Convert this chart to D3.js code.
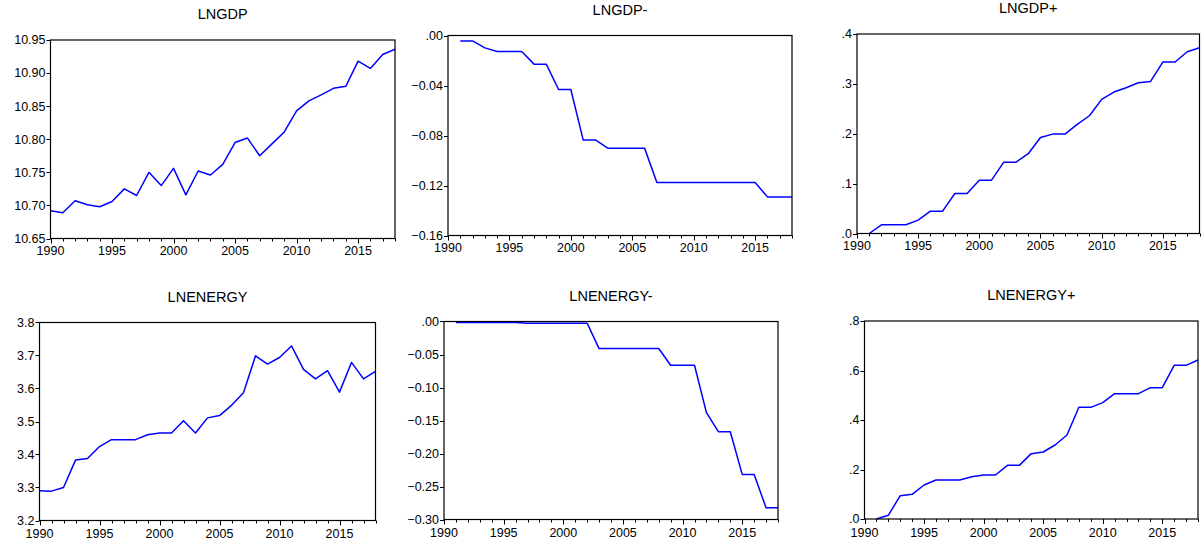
<!DOCTYPE html>
<html>
<head>
<meta charset="utf-8">
<script src="https://cdn.jsdelivr.net/npm/d3@7"></script>
<style>
  html, body { margin: 0; padding: 0; background: #fff; }
  svg { display: block; }
  text { font-family: "Liberation Sans", Arial, sans-serif; fill: #000; }
</style>
</head>
<body>
<svg id="chart" width="1201" height="546"></svg>
<script>
// ---- data ----
const years = d3.range(1990, 2019);
const titles = ["LNGDP", "LNGDP-", "LNGDP+", "LNENERGY", "LNENERGY-", "LNENERGY+"];

const lngdp = [10.692, 10.689, 10.707, 10.701, 10.698, 10.706, 10.725, 10.715, 10.750, 10.730,
  10.756, 10.716, 10.752, 10.746, 10.762, 10.795, 10.802, 10.775, 10.793, 10.811,
  10.843, 10.858, 10.867, 10.877, 10.880, 10.918, 10.907, 10.928, 10.936];
const lngdpNeg = [null, -0.0043, -0.0043, -0.0099, -0.0128, -0.0128, -0.0128, -0.0229, -0.0229, -0.0432,
  -0.0432, -0.0835, -0.0835, -0.0901, -0.0901, -0.0901, -0.0901, -0.1176, -0.1176, -0.1176,
  -0.1176, -0.1176, -0.1176, -0.1176, -0.1176, -0.1176, -0.1291, -0.1291, -0.1291];
const lngdpPos = [null, 0.000, 0.0174, 0.0174, 0.0174, 0.0268, 0.0448, 0.0448, 0.0803, 0.0803,
  0.107, 0.107, 0.1431, 0.1431, 0.160, 0.1926, 0.1993, 0.1993, 0.2187, 0.2361,
  0.2689, 0.2836, 0.2923, 0.3023, 0.305, 0.3438, 0.3438, 0.3645, 0.3726];
const lnenergy = [3.290, 3.289, 3.300, 3.383, 3.388, 3.424, 3.445, 3.445, 3.445, 3.460,
  3.465, 3.465, 3.502, 3.465, 3.511, 3.518, 3.549, 3.587, 3.699, 3.674,
  3.694, 3.729, 3.658, 3.629, 3.654, 3.589, 3.679, 3.629, 3.652];
const lnenergyNeg = [null, -0.0015, -0.0015, -0.0015, -0.0015, -0.0015, -0.0015, -0.0025, -0.0025, -0.0025,
  -0.0025, -0.0025, -0.0025, -0.041, -0.041, -0.041, -0.041, -0.041, -0.041, -0.0663,
  -0.0663, -0.0663, -0.138, -0.167, -0.167, -0.2317, -0.2317, -0.2823, -0.2823];
const lnenergyPos = [null, 0.000, 0.0148, 0.0943, 0.0997, 0.1374, 0.1576, 0.1576, 0.1576, 0.171,
  0.1778, 0.1778, 0.2168, 0.2168, 0.264, 0.2707, 0.299, 0.3394, 0.4512, 0.4512,
  0.470, 0.5064, 0.5064, 0.5064, 0.5306, 0.5306, 0.6208, 0.6208, 0.6424];

const yDomains = [[10.65, 10.95], [-0.16, 0], [0, 0.4], [3.2, 3.8], [-0.30, 0], [0, 0.8]];
const yTickSteps = [0.05, 0.04, 0.1, 0.1, 0.05, 0.2];
const yTickDecimals = [2, 2, 1, 1, 2, 1];
const xTickLabels = [1990, 1995, 2000, 2005, 2010, 2015];
const series = [lngdp, lngdpNeg, lngdpPos, lnenergy, lnenergyNeg, lnenergyPos];

// ---- layout (panel frames) ----
const frames = [
  {l: 50.5, r: 395, t: 40, b: 238.5},
  {l: 448, r: 792, t: 35.5, b: 235.5},
  {l: 857, r: 1199.5, t: 34, b: 233.5},
  {l: 39.5, r: 375.5, t: 322.5, b: 520.5},
  {l: 444, r: 778, t: 321.5, b: 519.5},
  {l: 864.5, r: 1198, t: 321, b: 519}
];

const svg = d3.select("#chart");

function fmt(v, dec) {
  let s = d3.format("." + dec + "f")(Math.abs(v) < 1e-9 ? 0 : v);
  s = s.replace(/^(-?)0\./, "$1.");
  return s;
}

frames.forEach((f, i) => {
  const g = svg.append("g");
  const x = d3.scaleLinear().domain([1990, 2018]).range([f.l, f.r]);
  const y = d3.scaleLinear().domain(yDomains[i]).range([f.b, f.t]);

  // title
  g.append("text")
    .attr("x", (f.l + f.r) / 2)
    .attr("y", f.t - 21)
    .attr("text-anchor", "middle")
    .style("font-size", "14.5px")
    .text(titles[i]);

  // y ticks
  const [y0, y1] = yDomains[i];
  const n = Math.round((y1 - y0) / yTickSteps[i]);
  const yTicks = d3.range(n + 1).map(k => y0 + k * yTickSteps[i]);
  yTicks.forEach(v => {
    const yy = Math.round(y(v)) + 0.5;
    g.append("line")
      .attr("x1", f.l - 4).attr("x2", f.l)
      .attr("y1", yy).attr("y2", yy)
      .attr("stroke", "#000").attr("stroke-width", 1);
    g.append("text")
      .attr("x", f.l - 5)
      .attr("y", y(v))
      .attr("dy", "0.35em")
      .attr("text-anchor", "end")
      .style("font-size", "12.5px")
      .text(fmt(v, yTickDecimals[i]));
  });

  // x ticks (every year), labels every 5 years
  years.forEach(yr => {
    const xx = Math.round(x(yr)) + 0.5;
    const major = yr % 5 === 0;
    g.append("line")
      .attr("x1", xx).attr("x2", xx)
      .attr("y1", f.b).attr("y2", f.b + (major ? 5 : 3))
      .attr("stroke", "#000").attr("stroke-width", 1);
  });
  xTickLabels.forEach(yr => {
    g.append("text")
      .attr("x", x(yr))
      .attr("y", f.b + (i < 3 ? 16 : 17.5))
      .attr("text-anchor", "middle")
      .style("font-size", "12.5px")
      .text(yr);
  });

  // series line
  const line = d3.line()
    .defined(d => d[1] !== null)
    .x(d => x(d[0]))
    .y(d => y(d[1]));
  g.append("path")
    .datum(years.map((yr, k) => [yr, series[i][k]]))
    .attr("fill", "none")
    .attr("stroke", "#0000ff")
    .attr("stroke-width", 1.5)
    .attr("stroke-linejoin", "round")
    .attr("d", line);

  // frame
  g.append("rect")
    .attr("x", f.l).attr("y", f.t)
    .attr("width", f.r - f.l).attr("height", f.b - f.t)
    .attr("fill", "none")
    .attr("stroke", "#000")
    .attr("stroke-width", 1.2);
});
</script>
</body>
</html>
